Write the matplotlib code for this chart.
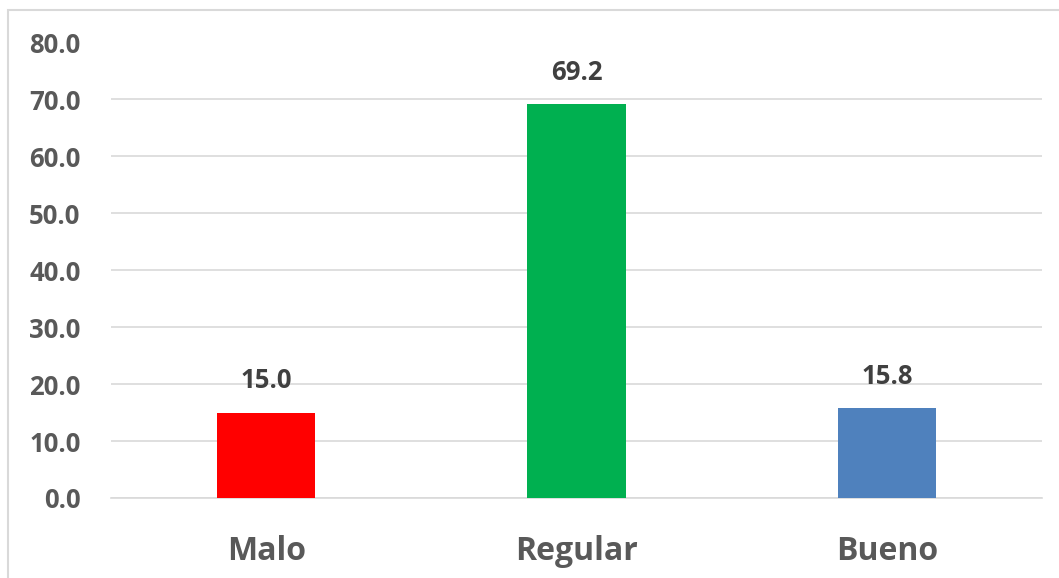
import matplotlib.pyplot as plt
from matplotlib.patches import Rectangle

categories = ['Malo', 'Regular', 'Bueno']
values = [15.0, 69.2, 15.8]
colors = ['#FF0000', '#00B050', '#4F81BD']
yticks = [0, 10, 20, 30, 40, 50, 60, 70, 80]

plt.rcParams['font.family'] = ['Open Sans', 'DejaVu Sans']

fig = plt.figure(figsize=(10.59, 5.78), dpi=100)
ax = fig.add_axes([111 / 1059, 1 - 498 / 578, (1042 - 111) / 1059, (498 - 42.5) / 578])

x = range(len(categories))
ax.bar(x, values, width=0.316, color=colors, zorder=3)

for xi, v in zip(x, values):
    ax.text(xi, v + 3.2, f'{v:.1f}', ha='center', va='bottom',
            fontsize=18.5, fontweight='bold', color='#404040')

ax.set_xlim(-0.5, 2.5)
ax.set_ylim(0, 80)
ax.set_yticks(yticks)
ax.set_yticklabels([f'{t:.1f}' for t in yticks])
ax.set_xticks(list(x))
ax.set_xticklabels(categories)

ax.grid(axis='y', color='#D9D9D9', linewidth=1.2, zorder=0)
for s in ['top', 'right', 'left']:
    ax.spines[s].set_visible(False)
ax.spines['bottom'].set_color('#D9D9D9')
ax.spines['bottom'].set_linewidth(1.2)

ax.tick_params(axis='y', length=0, pad=22, labelsize=18.5, labelcolor='#595959')
ax.tick_params(axis='x', length=0, pad=27, labelsize=23, labelcolor='#595959')
for lbl in ax.get_yticklabels() + ax.get_xticklabels():
    lbl.set_fontweight('bold')

# outer chart border
fig.patches.append(Rectangle((7.5 / 1059, -0.1), 1.2, 1 - 9.5 / 578 + 0.1,
                             transform=fig.transFigure, fill=False,
                             edgecolor='#D9D9D9', linewidth=1.5))

fig.savefig('out.png', dpi=100)
